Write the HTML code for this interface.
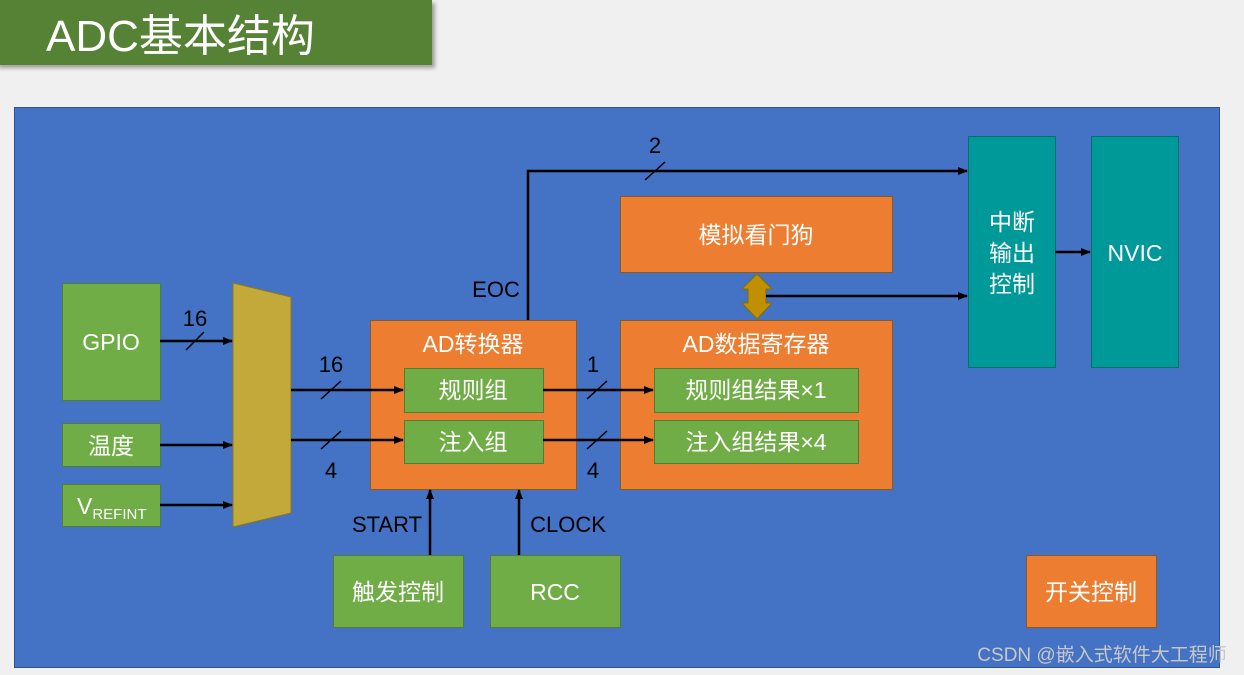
<!DOCTYPE html>
<html><head><meta charset="utf-8"><style>
body{margin:0;background:#f0f0f0;}
svg{display:block;font-family:"Liberation Sans","Noto Sans CJK SC",sans-serif;}
</style></head><body>
<svg width="1244" height="675" viewBox="0 0 1244 675" xmlns="http://www.w3.org/2000/svg">
<defs>
<marker id="a" markerWidth="10" markerHeight="10" refX="9" refY="5" orient="auto" markerUnits="userSpaceOnUse"><path d="M0,1 L10,5 L0,9 Z" fill="#000"/></marker>
<filter id="sh"><feDropShadow dx="3" dy="3" stdDeviation="2" flood-color="#000" flood-opacity="0.35"/></filter>
</defs>
<rect x="0" y="0" width="1244" height="675" fill="#f0f0f0"/>
<rect x="-5" y="0" width="437" height="65" fill="#548235" filter="url(#sh)"/>
<text x="46" y="51" font-size="44" fill="#fff">ADC基本结构</text>
<rect x="14.5" y="107.5" width="1205" height="560" fill="#4472c4" stroke="#2f528f"/>
<g stroke="#507e32" stroke-width="1" fill="#70ad47">
<rect x="62.5" y="283.5" width="98" height="117"/>
<rect x="62.5" y="423.5" width="98" height="43"/>
<rect x="62.5" y="484.5" width="98" height="42"/>
<rect x="333.5" y="555.5" width="130" height="72"/>
<rect x="490.5" y="555.5" width="130" height="72"/>
</g>
<g stroke="#8a5a1e" fill="#ed7d31">
<rect x="370.5" y="320.5" width="206" height="169"/>
<rect x="620.5" y="320.5" width="272" height="169"/>
<rect x="620.5" y="196.5" width="272" height="76"/>
<rect x="1026.5" y="555.5" width="130" height="72"/>
</g>
<g stroke="#507e32" fill="#70ad47">
<rect x="404.5" y="368.5" width="139" height="44"/>
<rect x="404.5" y="420.5" width="139" height="43"/>
<rect x="654.5" y="368.5" width="204" height="44"/>
<rect x="654.5" y="420.5" width="204" height="43"/>
</g>
<g fill="#009999" stroke="#007070">
<rect x="968.5" y="136.5" width="87" height="231"/>
<rect x="1091.5" y="136.5" width="87" height="231"/>
</g>
<polygon points="233,283 291,297 291,513 233,527" fill="#c3a83a" stroke="#8a7a20"/>
<path d="M757,274 L772,289 L766,289 L766,303 L772,303 L757,319 L742,303 L748,303 L748,289 L742,289 Z" fill="#bf9000" stroke="#8a6a00"/>
<g stroke="#000" stroke-width="2.5" fill="none" marker-end="url(#a)">
<line x1="160" y1="341" x2="232" y2="341"/>
<line x1="160" y1="445" x2="232" y2="445"/>
<line x1="160" y1="505" x2="232" y2="505"/>
<line x1="291" y1="390" x2="403" y2="390"/>
<line x1="291" y1="440" x2="403" y2="440"/>
<line x1="543" y1="390" x2="653" y2="390"/>
<line x1="543" y1="440" x2="653" y2="440"/>
<polyline points="528,320 528,171 967,171"/>
<line x1="766" y1="296" x2="967" y2="296"/>
<line x1="1055" y1="252" x2="1090" y2="252"/>
<line x1="430" y1="555" x2="430" y2="490"/>
<line x1="519" y1="555" x2="519" y2="490"/>
</g>
<g stroke="#000" stroke-width="1.5">
<line x1="186" y1="350" x2="204" y2="332"/>
<line x1="321" y1="399" x2="341" y2="381"/>
<line x1="321" y1="449" x2="341" y2="431"/>
<line x1="587" y1="399" x2="607" y2="381"/>
<line x1="587" y1="449" x2="607" y2="431"/>
<line x1="645" y1="180" x2="665" y2="162"/>
</g>
<g font-size="22" fill="#000" text-anchor="middle">
<text x="195" y="326">16</text>
<text x="331" y="372">16</text>
<text x="331" y="478">4</text>
<text x="593" y="372">1</text>
<text x="593" y="478">4</text>
<text x="655" y="153">2</text>
<text x="496" y="297">EOC</text>
<text x="387" y="532">START</text>
<text x="568" y="532">CLOCK</text>
</g>
<g font-size="23" fill="#fff" text-anchor="middle">
<text x="111" y="350">GPIO</text>
<text x="111" y="454">温度</text>
<text x="77" y="514" text-anchor="start">V<tspan font-size="15" dy="5">REFINT</tspan></text>
<text x="473" y="352">AD转换器</text>
<text x="473" y="398">规则组</text>
<text x="473" y="450">注入组</text>
<text x="756" y="352">AD数据寄存器</text>
<text x="756" y="398">规则组结果×1</text>
<text x="756" y="450">注入组结果×4</text>
<text x="756" y="243">模拟看门狗</text>
<text x="1012" y="230">中断</text>
<text x="1012" y="261">输出</text>
<text x="1012" y="292">控制</text>
<text x="1135" y="261">NVIC</text>
<text x="398" y="600">触发控制</text>
<text x="555" y="600">RCC</text>
<text x="1091" y="600">开关控制</text>
</g>
<text x="1102" y="661" font-size="19" fill="#c8c8c8" text-anchor="middle">CSDN @嵌入式软件大工程师</text>
</svg>
</body></html>
